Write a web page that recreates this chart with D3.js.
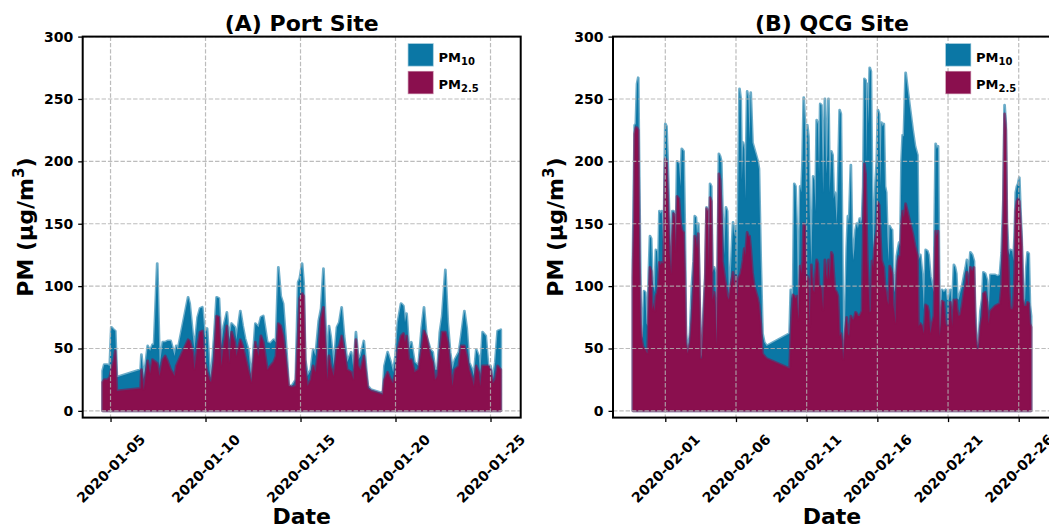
<!DOCTYPE html>
<html>
<head>
<meta charset="utf-8">
<script src="https://cdn.jsdelivr.net/npm/d3@7"></script>
<style>
  html, body { margin: 0; padding: 0; background: #fff; }
  svg { display: block; }
</style>
</head>
<body>
<svg id="chart" width="1049" height="527"></svg>
<script>
// ---- Port site: hourly samples, hours counted from 2020-01-04 00:00 UTC ----
const portStart = "2020-01-04T00:00:00Z";
const portHours = [
  14,16,20,23,25,28,30,32,62,63,
  66,71,74,77,79,83,86,90,93,96,
  100,105,107,109,122,124,128,130,134,137,
  140,143,146,149,151,155,158,161,164,167,
  171,174,177,181,183,188,191,194,198,202,
  207,211,214,217,222,226,230,233,236,239,
  242,245,249,253,258,261,263,266,268,270,
  273,277,280,283,287,290,293,296,298,300,
  302,306,310,313,316,319,323,328,331,334,
  337,340,344,347,349,353,368,370,374,378,
  381,384,387,391,394,396,398,401,404,408,
  413,417,420,423,428,431,434,437,440,443,
  447,450,453,456,459,464,467,471,474,477,
  481,483,486,489,491,494,498,501,504,507,
  510,513,517
];
const portPM10 = [
  32,37,37,36,67,65,64,27,33,45,
  25,52,48,53,53,118,36,55,55,56,
  56,44,52,49,91,86,60,49,75,82,
  83,60,66,33,25,60,91,90,52,68,
  79,57,70,67,57,80,68,58,49,25,
  70,67,75,76,55,54,57,55,115,92,
  86,60,20,20,25,103,106,118,102,41,
  28,33,49,44,72,82,114,60,33,68,
  60,36,67,71,83,60,39,47,33,63,
  41,44,56,33,20,17,14,36,47,39,
  31,44,71,86,84,71,78,49,55,39,
  36,66,83,60,49,47,33,33,63,76,
  113,71,47,33,41,47,60,80,66,39,
  33,28,49,44,28,63,60,36,36,25,
  39,64,65
];
const portPM25 = [
  23,25,25,27,33,40,48,16,18,33,
  17,40,30,41,40,38,28,41,44,40,
  33,28,36,39,57,56,47,33,52,63,
  64,39,31,25,23,41,76,75,36,52,
  68,39,63,55,44,57,52,44,33,23,
  55,44,60,55,33,36,39,44,70,68,
  60,44,20,19,20,60,90,94,92,33,
  20,25,36,31,49,74,83,44,25,44,
  36,28,49,52,60,49,33,31,25,57,
  36,33,44,28,18,16,13,25,31,25,
  22,31,49,60,62,55,60,41,41,31,
  33,49,64,60,44,39,25,28,47,63,
  63,55,36,20,33,36,52,52,44,33,
  25,20,36,31,20,36,36,36,33,22,
  25,36,33
];

// ---- QCG site: hourly samples, hours counted from 2020-01-29 00:00 UTC ----
const qcgStart = "2020-01-29T00:00:00Z";
const qcgHours = [
  17,19,20,22,24,26,28,30,32,34,
  36,38,40,42,44,46,48,50,52,54,
  56,58,60,62,64,66,69,72,74,76,
  79,82,84,86,88,90,92,95,98,100,
  103,105,107,110,114,117,120,122,124,126,
  128,130,132,134,137,140,142,144,146,148,
  150,152,155,157,159,161,163,165,167,169,
  172,175,177,180,183,185,187,189,192,194,
  196,198,200,202,204,206,208,211,213,215,
  217,220,223,226,229,231,234,237,240,244,
  283,285,287,289,291,293,295,298,301,303,
  305,307,309,311,313,315,317,320,323,325,
  327,329,331,333,335,337,340,343,345,347,
  349,351,354,356,358,360,363,365,368,370,
  372,374,377,380,382,384,387,389,391,393,
  395,397,399,402,404,406,408,410,412,414,
  415,417,419,421,423,425,427,429,431,433,
  435,437,439,441,443,445,447,449,451,453,
  455,457,459,461,463,465,467,469,471,473,
  475,477,480,484,488,492,496,500,502,505,
  508,511,514,517,519,522,525,528,531,533,
  535,537,538,540,542,545,548,550,553,556,
  559,562,564,566,568,570,573,576,579,582,
  584,587,590,593,596,598,600,602,604,607,
  610,612,615,618,621,624,628,632,636,640,
  643,646,648,650,652,654,656,658,661,663,
  665,667,669,671,673,675,677,679,681,683,
  685,687,689,691,693
];
const qcgPM10 = [
  121,190,229,230,262,267,175,90,57,60,
  96,95,70,68,110,140,138,105,100,95,
  129,128,110,160,158,160,125,230,228,200,
  148,116,160,160,158,135,200,198,180,210,
  208,150,62,46,62,100,120,156,155,140,
  150,95,42,45,80,110,163,160,120,182,
  180,111,115,111,52,120,206,204,200,160,
  125,163,160,89,108,130,151,140,148,95,
  180,258,250,185,215,210,170,256,250,218,
  255,215,210,205,200,194,120,62,55,52,
  62,97,90,95,182,180,150,73,180,175,
  200,251,230,160,229,220,162,117,188,185,
  160,233,230,190,246,245,175,250,190,205,
  250,175,208,205,170,175,150,175,241,238,
  150,46,68,130,156,150,197,140,121,130,
  145,150,146,154,150,154,180,266,265,200,
  262,230,275,272,180,121,150,183,200,241,
  238,180,231,228,230,180,175,140,120,148,
  146,145,110,95,100,124,130,135,132,200,
  221,220,271,255,240,225,212,205,121,125,
  110,81,129,128,125,108,100,95,214,210,
  212,100,62,80,97,95,97,89,88,97,
  81,117,115,110,90,89,95,100,108,115,
  121,108,127,125,120,80,60,52,55,80,
  90,111,110,105,79,109,109,109,108,109,
  127,170,245,230,150,130,125,129,128,120,
  140,175,180,182,187,160,138,100,84,90,
  115,127,126,85,76
];
const qcgPM25 = [
  107,150,222,227,227,225,121,70,57,52,
  50,49,47,46,90,115,112,81,85,80,
  92,95,100,119,117,119,118,202,200,170,
  127,110,140,158,155,128,172,170,150,145,
  143,110,55,46,55,73,100,140,138,130,
  142,90,42,42,70,105,162,160,115,171,
  168,89,95,85,52,100,190,185,160,120,
  110,100,92,89,100,105,111,100,108,90,
  105,108,110,115,121,130,125,143,140,140,
  130,111,100,95,90,85,70,46,44,42,
  34,60,80,93,92,90,92,73,116,110,
  120,150,148,100,108,105,68,117,97,95,
  110,121,118,100,100,98,81,121,110,105,
  121,105,127,125,110,97,95,92,60,62,
  55,41,62,75,62,60,76,74,73,75,
  79,78,76,76,78,80,140,198,190,140,
  121,100,79,80,120,115,130,138,145,167,
  165,140,121,118,115,100,95,88,85,116,
  114,110,85,79,70,110,120,124,124,150,
  160,155,166,158,150,142,132,124,68,70,
  68,62,85,84,80,62,70,76,144,140,
  144,70,60,70,88,87,70,68,68,87,
  68,89,88,89,80,76,77,85,95,102,
  111,98,115,112,115,70,55,49,50,68,
  76,94,95,87,70,80,82,84,85,86,
  100,150,238,225,130,121,95,82,81,84,
  110,160,168,170,168,150,132,90,84,84,
  84,87,86,70,67
];

// ---- Axis ticks and labels ----
const portTicks = ["2020-01-05", "2020-01-10", "2020-01-15", "2020-01-20", "2020-01-25"];
const qcgTicks = ["2020-02-01", "2020-02-06", "2020-02-11", "2020-02-16", "2020-02-21", "2020-02-26"];
const yTicks = [0, 50, 100, 150, 200, 250, 300];
const seriesKeys = ["pm10", "pm25"];
const legendBase = ["PM", "PM"];
const legendSub = ["10", "2.5"];

// ---- Styling ----
const FONT = '"DejaVu Sans", "Liberation Sans", sans-serif';
const COLORS = { pm10: "#0b77a5", pm25: "#8a0f4e" };
const plotTop = 36.6, plotBottom = 417.6, plotWidth = 438;
const svg = d3.select("#chart");

function drawPanel(cfg) {
  const t0 = Date.parse(cfg.start);
  const rows = cfg.hours.map((h, i) => ({
    date: new Date(t0 + h * 3600000),
    pm10: cfg.pm10[i],
    pm25: cfg.pm25[i]
  }));

  // 5% padding on both sides of the time range
  const [d0, d1] = d3.extent(rows, d => d.date);
  const pad = (d1 - d0) * 0.05;
  const x = d3.scaleUtc()
    .domain([new Date(+d0 - pad), new Date(+d1 + pad)])
    .range([cfg.left, cfg.left + plotWidth]);
  const y = d3.scaleLinear().domain([-5.4, 300]).range([plotBottom, plotTop]);

  const g = svg.append("g");
  const clipId = "clip-" + cfg.id;
  g.append("clipPath").attr("id", clipId)
    .append("rect")
    .attr("x", cfg.left).attr("y", plotTop)
    .attr("width", plotWidth).attr("height", plotBottom - plotTop);

  const plot = g.append("g").attr("clip-path", `url(#${clipId})`);

  // filled series, PM10 underneath PM2.5
  seriesKeys.forEach(key => {
    const area = d3.area()
      .x(d => x(d.date))
      .y0(y(0))
      .y1(d => y(d[key]));
    plot.append("path")
      .datum(rows)
      .attr("d", area)
      .attr("fill", COLORS[key])
      .attr("stroke", COLORS[key])
      .attr("stroke-width", 2.8)
      .attr("stroke-opacity", 0.6)
      .attr("stroke-linejoin", "round");
  });

  // dashed grid drawn over the fills
  const tickDates = cfg.ticks.map(s => new Date(s + "T00:00:00Z"));
  const grid = plot.append("g")
    .attr("stroke", "#b0b0b0")
    .attr("stroke-width", 1.2)
    .attr("stroke-dasharray", "4.4,1.9")
    .attr("stroke-opacity", 0.85);
  grid.selectAll(".vx").data(tickDates).join("line")
    .attr("x1", d => x(d)).attr("x2", d => x(d))
    .attr("y1", plotTop).attr("y2", plotBottom);
  grid.selectAll(".hy").data(yTicks).join("line")
    .attr("x1", cfg.left).attr("x2", cfg.left + plotWidth)
    .attr("y1", d => y(d)).attr("y2", d => y(d));

  // x axis with rotated date labels
  const xAxis = g.append("g")
    .attr("transform", `translate(0,${plotBottom})`)
    .call(d3.axisBottom(x).tickValues(tickDates)
      .tickFormat(d3.utcFormat("%Y-%m-%d")).tickSize(4.5).tickPadding(0));
  xAxis.select(".domain").remove();
  xAxis.attr("font-family", FONT).attr("font-size", 14).attr("font-weight", "bold");
  xAxis.selectAll(".tick line").attr("stroke", "#000").attr("stroke-width", 1.3);
  xAxis.selectAll(".tick text")
    .attr("fill", "#000")
    .attr("y", 51)
    .attr("dy", "0.35em")
    .attr("text-anchor", "middle")
    .attr("transform", "rotate(-45 0 51)");

  // y axis
  const yAxis = g.append("g")
    .attr("transform", `translate(${cfg.left},0)`)
    .call(d3.axisLeft(y).tickValues(yTicks).tickSize(4.5).tickPadding(5));
  yAxis.select(".domain").remove();
  yAxis.attr("font-family", FONT).attr("font-size", 14).attr("font-weight", "bold");
  yAxis.selectAll(".tick line").attr("stroke", "#000").attr("stroke-width", 1.3);
  yAxis.selectAll(".tick text").attr("fill", "#000");

  // frame
  g.append("rect")
    .attr("x", cfg.left).attr("y", plotTop)
    .attr("width", plotWidth).attr("height", plotBottom - plotTop)
    .attr("fill", "none").attr("stroke", "#000").attr("stroke-width", 2);

  const cx = cfg.left + plotWidth / 2;

  // title
  g.append("text")
    .attr("x", cx).attr("y", 31)
    .attr("text-anchor", "middle")
    .attr("font-family", FONT).attr("font-size", 22).attr("font-weight", "bold")
    .text(cfg.title);

  // x label
  g.append("text")
    .attr("x", cx).attr("y", 523.5)
    .attr("text-anchor", "middle")
    .attr("font-family", FONT).attr("font-size", 22).attr("font-weight", "bold")
    .text("Date");

  // y label with superscript
  const ly = (plotTop + plotBottom) / 2, lx = cfg.left - 49.7;
  const yl = g.append("text")
    .attr("x", lx).attr("y", ly)
    .attr("transform", `rotate(-90 ${lx} ${ly})`)
    .attr("text-anchor", "middle")
    .attr("font-family", FONT).attr("font-size", 22).attr("font-weight", "bold");
  yl.append("tspan").text("PM (\u03bcg/m");
  yl.append("tspan").attr("font-size", 15).attr("dy", -9).text("3");
  yl.append("tspan").attr("dy", 9).text(")");

  // legend
  const leg = g.append("g").attr("transform", `translate(${cfg.legendX},44)`);
  seriesKeys.forEach((key, i) => {
    const row = leg.append("g").attr("transform", `translate(0,${i * 27.7})`);
    row.append("rect")
      .attr("width", 24.4).attr("height", 21.7)
      .attr("fill", COLORS[key])
      .attr("stroke", COLORS[key]).attr("stroke-opacity", 0.5).attr("stroke-width", 1.5);
    const t = row.append("text")
      .attr("x", 30).attr("y", 17.8)
      .attr("font-family", FONT).attr("font-weight", "bold").attr("font-size", 13);
    t.append("tspan").text(legendBase[i]);
    t.append("tspan").attr("font-size", 10).attr("dy", 3).text(legendSub[i]);
  });
}

drawPanel({
  id: "port", title: "(A) Port Site", left: 82.7, legendX: 408.5,
  start: portStart, hours: portHours, pm10: portPM10, pm25: portPM25, ticks: portTicks
});
drawPanel({
  id: "qcg", title: "(B) QCG Site", left: 613, legendX: 946,
  start: qcgStart, hours: qcgHours, pm10: qcgPM10, pm25: qcgPM25, ticks: qcgTicks
});
</script>
</body>
</html>
